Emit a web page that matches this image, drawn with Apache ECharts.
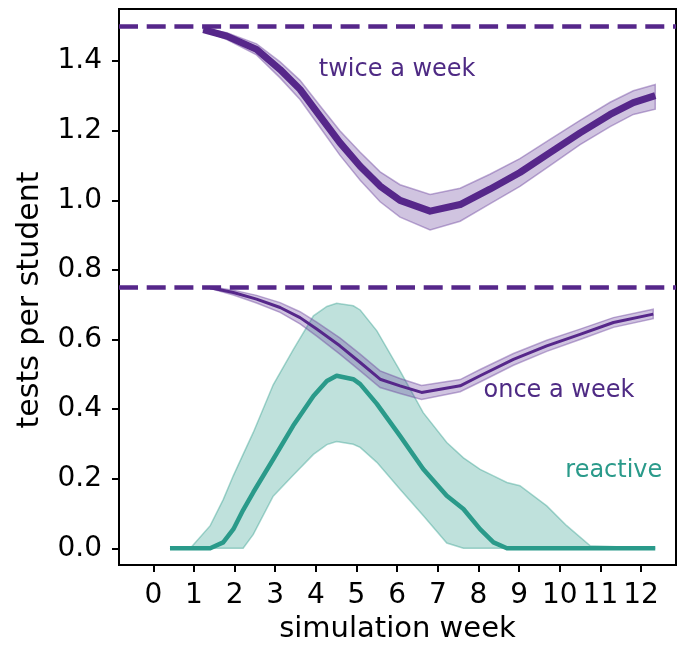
<!DOCTYPE html>
<html>
<head>
<meta charset="utf-8">
<script src="https://cdn.jsdelivr.net/npm/echarts@6/dist/echarts.min.js"></script>
<style>
  html, body { margin: 0; padding: 0; background: #fff; }
  #chart { width: 683px; height: 649px; }
</style>
</head>
<body>
<div id="chart"></div>
<script>
// Weekly testing rates (tests per student) over the simulated term.

// Twice-a-week schedule: mean with lower/upper envelope
const twiceWeeks = [1.23, 1.81, 2.54, 3.12, 3.61, 4.10, 4.59, 5.09, 5.58, 6.07, 6.81, 7.55, 8.28, 9.02, 9.76, 10.50, 11.24, 11.81, 12.35];
const twiceMean  = [1.491, 1.472, 1.434, 1.376, 1.319, 1.242, 1.166, 1.098, 1.041, 1.000, 0.969, 0.988, 1.032, 1.080, 1.137, 1.194, 1.247, 1.281, 1.301];
const twiceLow   = [1.488, 1.462, 1.418, 1.352, 1.290, 1.210, 1.130, 1.058, 0.996, 0.952, 0.915, 0.940, 0.990, 1.040, 1.100, 1.160, 1.212, 1.247, 1.262];
const twiceHigh  = [1.495, 1.482, 1.450, 1.398, 1.345, 1.272, 1.200, 1.138, 1.082, 1.045, 1.017, 1.035, 1.075, 1.120, 1.175, 1.230, 1.282, 1.315, 1.333];

// Once-a-week schedule
const onceWeeks = [1.40, 1.97, 2.54, 3.12, 3.61, 4.02, 4.59, 5.09, 5.58, 6.07, 6.60, 7.55, 8.04, 8.86, 9.68, 10.50, 11.32, 12.30];
const onceMean  = [0.749, 0.735, 0.716, 0.692, 0.663, 0.630, 0.582, 0.534, 0.486, 0.467, 0.448, 0.467, 0.496, 0.543, 0.582, 0.615, 0.649, 0.673];
const onceLow   = [0.747, 0.728, 0.705, 0.678, 0.645, 0.610, 0.558, 0.510, 0.462, 0.445, 0.428, 0.450, 0.478, 0.526, 0.566, 0.600, 0.635, 0.660];
const onceHigh  = [0.752, 0.742, 0.727, 0.706, 0.680, 0.650, 0.605, 0.558, 0.510, 0.488, 0.468, 0.485, 0.514, 0.560, 0.598, 0.630, 0.663, 0.687];

// Reactive testing
const reactiveWeeks = [0.41, 0.91, 1.40, 1.72, 1.97, 2.21, 2.46, 2.95, 3.44, 3.94, 4.27, 4.51, 4.92, 5.09, 5.50, 6.07, 6.64, 7.22, 7.63, 8.04, 8.37, 8.70, 9.02, 9.68, 10.17, 10.75, 12.35];
const reactiveMean  = [0, 0, 0, 0.017, 0.055, 0.110, 0.161, 0.256, 0.352, 0.438, 0.481, 0.496, 0.486, 0.472, 0.415, 0.323, 0.228, 0.151, 0.113, 0.055, 0.017, 0, 0, 0, 0, 0, 0];
const reactiveLow   = [0, 0, 0, 0, 0, 0, 0.040, 0.150, 0.210, 0.270, 0.298, 0.307, 0.299, 0.290, 0.247, 0.170, 0.094, 0.015, 0, 0, 0, 0, 0, 0, 0, 0, 0];
const reactiveHigh  = [0, 0, 0.065, 0.140, 0.209, 0.270, 0.333, 0.470, 0.570, 0.668, 0.695, 0.704, 0.697, 0.685, 0.625, 0.510, 0.390, 0.304, 0.260, 0.227, 0.208, 0.189, 0.180, 0.122, 0.065, 0.007, 0];

// Fixed-schedule reference levels
const scheduleLevels = [1.5, 0.75];

// Axis ticks
const xTicks = [0, 1, 2, 3, 4, 5, 6, 7, 8, 9, 10, 11, 12];
const yTicks = [0, 0.2, 0.4, 0.6, 0.8, 1.0, 1.2, 1.4];

const PURPLE = '#56278a';
const PURPLE_TEXT = '#4e2a84';
const TEAL = '#2a9a8a';
const FONT = 'DejaVu Sans';

function pairs(xs, ys) { return xs.map((x, i) => [x, ys[i]]); }

// Shaded envelope drawn as one polygon through the axis scales
function band(name, xs, lo, hi, fill, stroke, z) {
  return {
    name: name,
    type: 'custom',
    coordinateSystem: 'cartesian2d',
    silent: true,
    z: z,
    data: xs.map((x, i) => [x, lo[i], hi[i]]),
    encode: { x: 0, y: [1, 2] },
    renderItem: function (params, api) {
      if (params.dataIndex !== 0) return null;
      const pts = [];
      for (let i = 0; i < xs.length; i++) pts.push(api.coord([xs[i], hi[i]]));
      for (let i = xs.length - 1; i >= 0; i--) pts.push(api.coord([xs[i], lo[i]]));
      return {
        type: 'polygon',
        shape: { points: pts },
        style: { fill: fill, stroke: stroke, lineWidth: 1.5 }
      };
    }
  };
}

function label(text, x, y, color) {
  return {
    data: [{ coord: [x, y] }],
    symbol: 'circle',
    symbolSize: 0,
    silent: true,
    label: {
      show: true, position: 'inside', formatter: text,
      color: color, fontFamily: FONT, fontSize: 24
    }
  };
}

const chart = echarts.init(document.getElementById('chart'), null, { renderer: 'canvas' });

chart.setOption({
  animation: false,
  backgroundColor: '#fff',
  grid: {
    left: 119, right: 7, top: 9, bottom: 83,
    show: true, borderColor: '#000', borderWidth: 2, backgroundColor: 'transparent'
  },
  xAxis: {
    type: 'value',
    min: -0.844, max: 12.86,
    name: 'simulation week',
    nameLocation: 'middle',
    nameGap: 50,
    nameTextStyle: { color: '#000', fontFamily: FONT, fontSize: 29 },
    axisLine: { show: false, onZero: false },
    splitLine: { show: false },
    axisTick: { show: true, inside: false, length: 7, lineStyle: { color: '#000', width: 2 }, customValues: xTicks },
    axisLabel: { color: '#000', fontFamily: FONT, fontSize: 28, margin: 17, customValues: xTicks }
  },
  yAxis: {
    type: 'value',
    min: -0.048, max: 1.55,
    name: 'tests per student',
    nameLocation: 'middle',
    nameGap: 74,
    nameRotate: 90,
    nameTextStyle: { color: '#000', fontFamily: FONT, fontSize: 30, padding: [0, 26, 0, 0] },
    axisLine: { show: false, onZero: false },
    splitLine: { show: false },
    axisTick: { show: true, inside: false, length: 7, lineStyle: { color: '#000', width: 2 }, customValues: yTicks },
    axisLabel: {
      color: '#000', fontFamily: FONT, fontSize: 28, margin: 17, customValues: yTicks,
      formatter: v => v.toFixed(1)
    }
  },
  series: [
    band('reactive range', reactiveWeeks, reactiveLow, reactiveHigh, 'rgba(42,154,138,0.30)', 'rgba(42,154,138,0.40)', 1),
    {
      name: 'reactive',
      type: 'line',
      z: 2,
      data: pairs(reactiveWeeks, reactiveMean),
      showSymbol: false,
      lineStyle: { color: TEAL, width: 4.5, join: 'round', cap: 'butt' },
      markPoint: label('reactive', 11.33, 0.222, TEAL)
    },
    band('once range', onceWeeks, onceLow, onceHigh, 'rgba(110,70,160,0.32)', 'rgba(110,70,160,0.45)', 3),
    {
      name: 'once a week',
      type: 'line',
      z: 4,
      data: pairs(onceWeeks, onceMean),
      showSymbol: false,
      lineStyle: { color: PURPLE, width: 3, join: 'round' },
      markPoint: label('once a week', 9.98, 0.454, PURPLE_TEXT)
    },
    band('twice range', twiceWeeks, twiceLow, twiceHigh, 'rgba(110,70,160,0.32)', 'rgba(110,70,160,0.45)', 3),
    {
      name: 'twice a week',
      type: 'line',
      z: 4,
      data: pairs(twiceWeeks, twiceMean),
      showSymbol: false,
      lineStyle: { color: PURPLE, width: 7, join: 'round' },
      markPoint: label('twice a week', 6.0, 1.376, PURPLE_TEXT),
      markLine: {
        silent: true,
        symbol: 'none',
        label: { show: false },
        lineStyle: { color: PURPLE, width: 4.5, type: [19, 8.7], cap: 'butt' },
        data: scheduleLevels.map(v => ({ yAxis: v }))
      }
    }
  ]
});
</script>
</body>
</html>
